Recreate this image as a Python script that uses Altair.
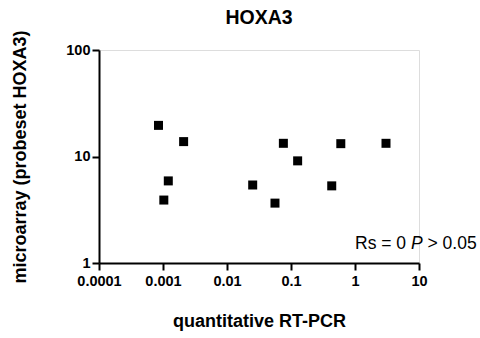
import altair as alt
import pandas as pd

# values (log-log scatter)
rt_pcr = [0.00085, 0.0021, 0.076, 0.60, 3.05, 0.127, 0.00121, 0.0252, 0.433, 0.00103, 0.0562]
microarray = [19.6, 13.8, 13.3, 13.2, 13.3, 9.1, 5.9, 5.4, 5.3, 3.9, 3.65]

x_ticks = [0.0001, 0.001, 0.01, 0.1, 1, 10]
y_ticks = [1, 10, 100]

ann_x = [1]
ann_y = [1.35]

FONT = "Liberation Sans"

df = pd.DataFrame({"x": rt_pcr, "y": microarray})
ann = pd.DataFrame({"x": ann_x, "y": ann_y})

xscale = alt.Scale(type="log", domain=[x_ticks[0], x_ticks[-1]], nice=False)
yscale = alt.Scale(type="log", domain=[y_ticks[0], y_ticks[-1]], nice=False)

axis_common = dict(
    domainColor="black", domainWidth=2, tickColor="black", tickWidth=2,
    tickSize=7, grid=False, labelFont=FONT, labelFontWeight="bold",
    labelFontSize=14.5, labelColor="black", titleFont=FONT,
    titleFontWeight="bold", titleFontSize=18, titleColor="black",
)

points = alt.Chart(df).mark_square(size=81, color="black", opacity=1).encode(
    x=alt.X("x:Q", scale=xscale, title="quantitative RT-PCR",
            axis=alt.Axis(values=x_ticks, labelExpr="'' + datum.value",
                          labelPadding=4, titlePadding=25, labelFlush=False,
                          **axis_common)),
    y=alt.Y("y:Q", scale=yscale, title="microarray (probeset HOXA3)",
            axis=alt.Axis(values=y_ticks, labelExpr="'' + datum.value",
                          labelPadding=2, titlePadding=36, labelFlush=False,
                          **axis_common)),
)

t1 = alt.Chart(ann).mark_text(font=FONT, fontSize=17.5, align="left",
                              baseline="alphabetic", color="black").encode(
    x=alt.X("x:Q", scale=xscale), y=alt.Y("y:Q", scale=yscale),
    text=alt.value("Rs = 0"))
t2 = alt.Chart(ann).mark_text(font=FONT, fontSize=17.5, fontStyle="italic",
                              align="left", baseline="alphabetic", dx=56,
                              color="black").encode(
    x=alt.X("x:Q", scale=xscale), y=alt.Y("y:Q", scale=yscale),
    text=alt.value("P"))
t3 = alt.Chart(ann).mark_text(font=FONT, fontSize=17.5, align="left",
                              baseline="alphabetic", dx=72.5,
                              color="black").encode(
    x=alt.X("x:Q", scale=xscale), y=alt.Y("y:Q", scale=yscale),
    text=alt.value("> 0.05"))

chart = alt.layer(points, t1, t2, t3).properties(
    width=320, height=213,
    title=alt.TitleParams("HOXA3", font=FONT, fontSize=19.5, fontWeight="bold",
                          color="black", anchor="middle", offset=1),
    autosize=alt.AutoSizeParams(type="none"),
    padding={"left": 99, "top": 50, "right": 61, "bottom": 75},
).configure_view(stroke=None).configure(background="white")

chart.save("out.html", embed_options={"renderer": "svg", "actions": False})
